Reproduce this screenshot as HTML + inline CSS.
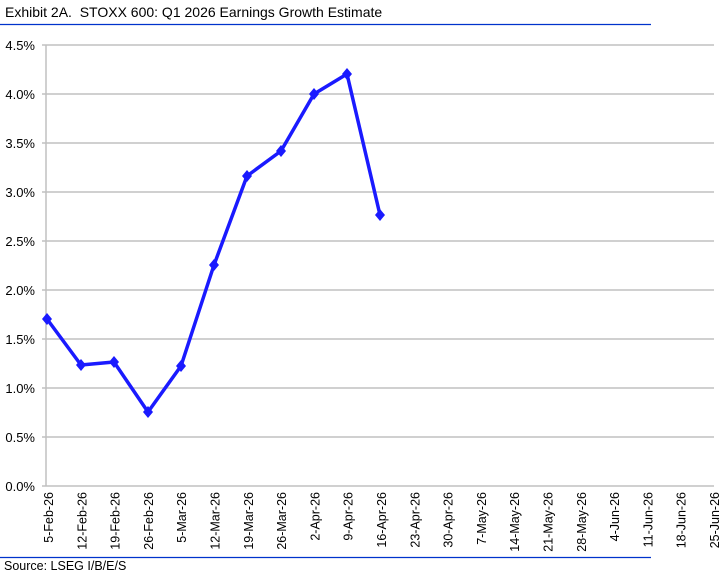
<!DOCTYPE html>
<html><head><style>
body{margin:0;background:#fff;width:722px;height:574px;overflow:hidden;font-family:"Liberation Sans",Arial,sans-serif}
</style></head><body>
<svg width="722" height="574" xmlns="http://www.w3.org/2000/svg" font-family="Liberation Sans, Arial, sans-serif">
<text x="5" y="17" font-size="14" fill="#000" style="white-space:pre">Exhibit 2A.  STOXX 600: Q1 2026 Earnings Growth Estimate</text>
<line x1="0" y1="24.5" x2="651" y2="24.5" stroke="#0033cc" stroke-width="1.2"/>
<g stroke="#c0c0c0" stroke-width="1.5">
<line x1="42" y1="45" x2="714" y2="45"/>
<line x1="42" y1="94" x2="714" y2="94"/>
<line x1="42" y1="143" x2="714" y2="143"/>
<line x1="42" y1="192" x2="714" y2="192"/>
<line x1="42" y1="241" x2="714" y2="241"/>
<line x1="42" y1="290" x2="714" y2="290"/>
<line x1="42" y1="339" x2="714" y2="339"/>
<line x1="42" y1="388" x2="714" y2="388"/>
<line x1="42" y1="437" x2="714" y2="437"/>
<line x1="42" y1="486" x2="714" y2="486"/>
<line x1="46" y1="45" x2="46" y2="486"/>
</g>
<g font-size="13" text-anchor="end" fill="#000">
<text x="35" y="50">4.5%</text><text x="35" y="99">4.0%</text><text x="35" y="148">3.5%</text>
<text x="35" y="197">3.0%</text><text x="35" y="246">2.5%</text><text x="35" y="295">2.0%</text>
<text x="35" y="344">1.5%</text><text x="35" y="393">1.0%</text><text x="35" y="442">0.5%</text>
<text x="35" y="491">0.0%</text>
</g>
<g font-size="12.5" text-anchor="end" fill="#000">
<text transform="translate(53,492) rotate(-90)">5-Feb-26</text>
<text transform="translate(86.3,492) rotate(-90)">12-Feb-26</text>
<text transform="translate(119.6,492) rotate(-90)">19-Feb-26</text>
<text transform="translate(152.9,492) rotate(-90)">26-Feb-26</text>
<text transform="translate(186.2,492) rotate(-90)">5-Mar-26</text>
<text transform="translate(219.5,492) rotate(-90)">12-Mar-26</text>
<text transform="translate(252.8,492) rotate(-90)">19-Mar-26</text>
<text transform="translate(286.1,492) rotate(-90)">26-Mar-26</text>
<text transform="translate(319.4,492) rotate(-90)">2-Apr-26</text>
<text transform="translate(352.7,492) rotate(-90)">9-Apr-26</text>
<text transform="translate(386,492) rotate(-90)">16-Apr-26</text>
<text transform="translate(419.3,492) rotate(-90)">23-Apr-26</text>
<text transform="translate(452.6,492) rotate(-90)">30-Apr-26</text>
<text transform="translate(485.9,492) rotate(-90)">7-May-26</text>
<text transform="translate(519.2,492) rotate(-90)">14-May-26</text>
<text transform="translate(552.5,492) rotate(-90)">21-May-26</text>
<text transform="translate(585.8,492) rotate(-90)">28-May-26</text>
<text transform="translate(619.1,492) rotate(-90)">4-Jun-26</text>
<text transform="translate(652.4,492) rotate(-90)">11-Jun-26</text>
<text transform="translate(685.7,492) rotate(-90)">18-Jun-26</text>
<text transform="translate(719,492) rotate(-90)">25-Jun-26</text>
</g>
<polyline fill="none" stroke="#1a1aff" stroke-width="3.5" stroke-linejoin="round"
points="47,319 81,365 114,362 148,412 181,366 214,265 247,176 281,151 314,94 347,74 380,215"/>
<g fill="#1a1aff">
<path d="M47,313 l5,6 l-5,6 l-5,-6z"/><path d="M81,359 l5,6 l-5,6 l-5,-6z"/>
<path d="M114,356 l5,6 l-5,6 l-5,-6z"/><path d="M148,406 l5,6 l-5,6 l-5,-6z"/>
<path d="M181,360 l5,6 l-5,6 l-5,-6z"/><path d="M214,259 l5,6 l-5,6 l-5,-6z"/>
<path d="M247,170 l5,6 l-5,6 l-5,-6z"/><path d="M281,145 l5,6 l-5,6 l-5,-6z"/>
<path d="M314,88 l5,6 l-5,6 l-5,-6z"/><path d="M347,68 l5,6 l-5,6 l-5,-6z"/>
<path d="M380,209 l5,6 l-5,6 l-5,-6z"/>
</g>
<line x1="0" y1="557.5" x2="651" y2="557.5" stroke="#0033cc" stroke-width="1.2"/>
<text x="4" y="570" font-size="12.5" fill="#000">Source: LSEG I/B/E/S</text>
</svg>
</body></html>
